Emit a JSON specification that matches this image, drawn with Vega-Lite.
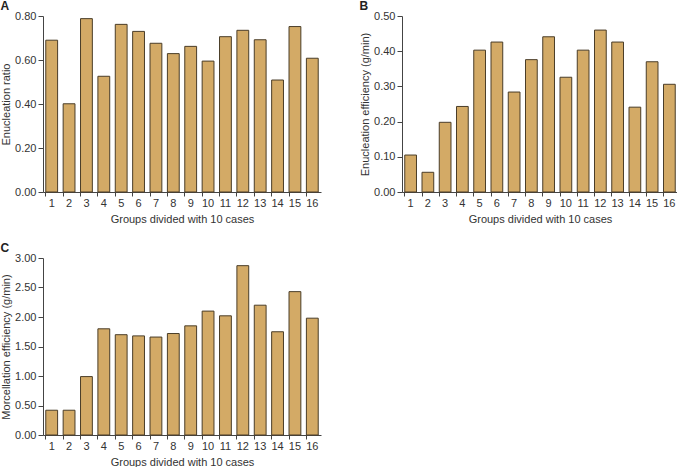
{
  "$schema": "https://vega.github.io/schema/vega-lite/v6.json",
  "padding": {"left": 0, "top": 0, "right": 2, "bottom": 0},
  "background": "white",
  "config": {
    "font": "Liberation Sans",
    "view": {"stroke": null},
    "axis": {"grid": false, "domainColor": "#444", "tickColor": "#444", "labelColor": "#333", "titleColor": "#333", "labelFontSize": 11, "titleFontSize": 11, "titleFontWeight": "normal", "tickSize": 5, "labelPadding": 2},
    "axisX": {"tickSize": 4, "labelPadding": 1, "titlePadding": 5},
    "axisY": {"titlePadding": 3},
    "title": {"fontSize": 12, "fontWeight": "bold", "anchor": "start", "frame": "bounds", "color": "#222", "offset": -3},
    "concat": {"spacing": 38}
  },
  "datasets": {
    "d": [
      {"g": "1", "a": 0.690, "b": 0.105, "c": 0.42},
      {"g": "2", "a": 0.401, "b": 0.056, "c": 0.42},
      {"g": "3", "a": 0.788, "b": 0.198, "c": 0.99},
      {"g": "4", "a": 0.526, "b": 0.243, "c": 1.80},
      {"g": "5", "a": 0.762, "b": 0.403, "c": 1.70},
      {"g": "6", "a": 0.730, "b": 0.426, "c": 1.68},
      {"g": "7", "a": 0.676, "b": 0.284, "c": 1.66},
      {"g": "8", "a": 0.629, "b": 0.376, "c": 1.72},
      {"g": "9", "a": 0.662, "b": 0.441, "c": 1.85},
      {"g": "10", "a": 0.595, "b": 0.326, "c": 2.10},
      {"g": "11", "a": 0.706, "b": 0.403, "c": 2.02},
      {"g": "12", "a": 0.735, "b": 0.460, "c": 2.87},
      {"g": "13", "a": 0.692, "b": 0.426, "c": 2.20},
      {"g": "14", "a": 0.509, "b": 0.241, "c": 1.75},
      {"g": "15", "a": 0.752, "b": 0.370, "c": 2.43},
      {"g": "16", "a": 0.608, "b": 0.306, "c": 1.98}
    ]
  },
  "vconcat": [
    {
      "hconcat": [
        {
          "title": "A",
          "width": 278, "height": 176,
          "data": {"name": "d"},
          "mark": {"type": "bar", "fill": "#D3AA66", "stroke": "#4a3d28", "strokeWidth": 1},
          "encoding": {
            "x": {"field": "g", "type": "ordinal", "sort": null, "scale": {"paddingInner": 0.32, "paddingOuter": 0.16}, "axis": {"labelAngle": 0, "bandPosition": 0, "title": "Groups divided with 10 cases"}},
            "y": {"field": "a", "type": "quantitative", "scale": {"domain": [0, 0.8], "nice": false}, "axis": {"values": [0, 0.2, 0.4, 0.6, 0.8], "format": ".2f", "title": "Enucleation ratio"}}
          }
        },
        {
          "title": "B",
          "width": 276, "height": 176,
          "data": {"name": "d"},
          "mark": {"type": "bar", "fill": "#D3AA66", "stroke": "#4a3d28", "strokeWidth": 1},
          "encoding": {
            "x": {"field": "g", "type": "ordinal", "sort": null, "scale": {"paddingInner": 0.32, "paddingOuter": 0.16}, "axis": {"labelAngle": 0, "bandPosition": 0, "title": "Groups divided with 10 cases"}},
            "y": {"field": "b", "type": "quantitative", "scale": {"domain": [0, 0.5], "nice": false}, "axis": {"values": [0, 0.1, 0.2, 0.3, 0.4, 0.5], "format": ".2f", "title": "Enucleation efficiency (g/min)"}}
          }
        }
      ]
    },
    {
      "title": "C",
      "width": 278, "height": 177,
      "data": {"name": "d"},
      "mark": {"type": "bar", "fill": "#D3AA66", "stroke": "#4a3d28", "strokeWidth": 1},
      "encoding": {
        "x": {"field": "g", "type": "ordinal", "sort": null, "scale": {"paddingInner": 0.32, "paddingOuter": 0.16}, "axis": {"labelAngle": 0, "bandPosition": 0, "title": "Groups divided with 10 cases"}},
        "y": {"field": "c", "type": "quantitative", "scale": {"domain": [0, 3], "nice": false}, "axis": {"values": [0, 0.5, 1, 1.5, 2, 2.5, 3], "format": ".2f", "title": "Morcellation efficiency (g/min)"}}
      }
    }
  ],
  "spacing": 18
}
